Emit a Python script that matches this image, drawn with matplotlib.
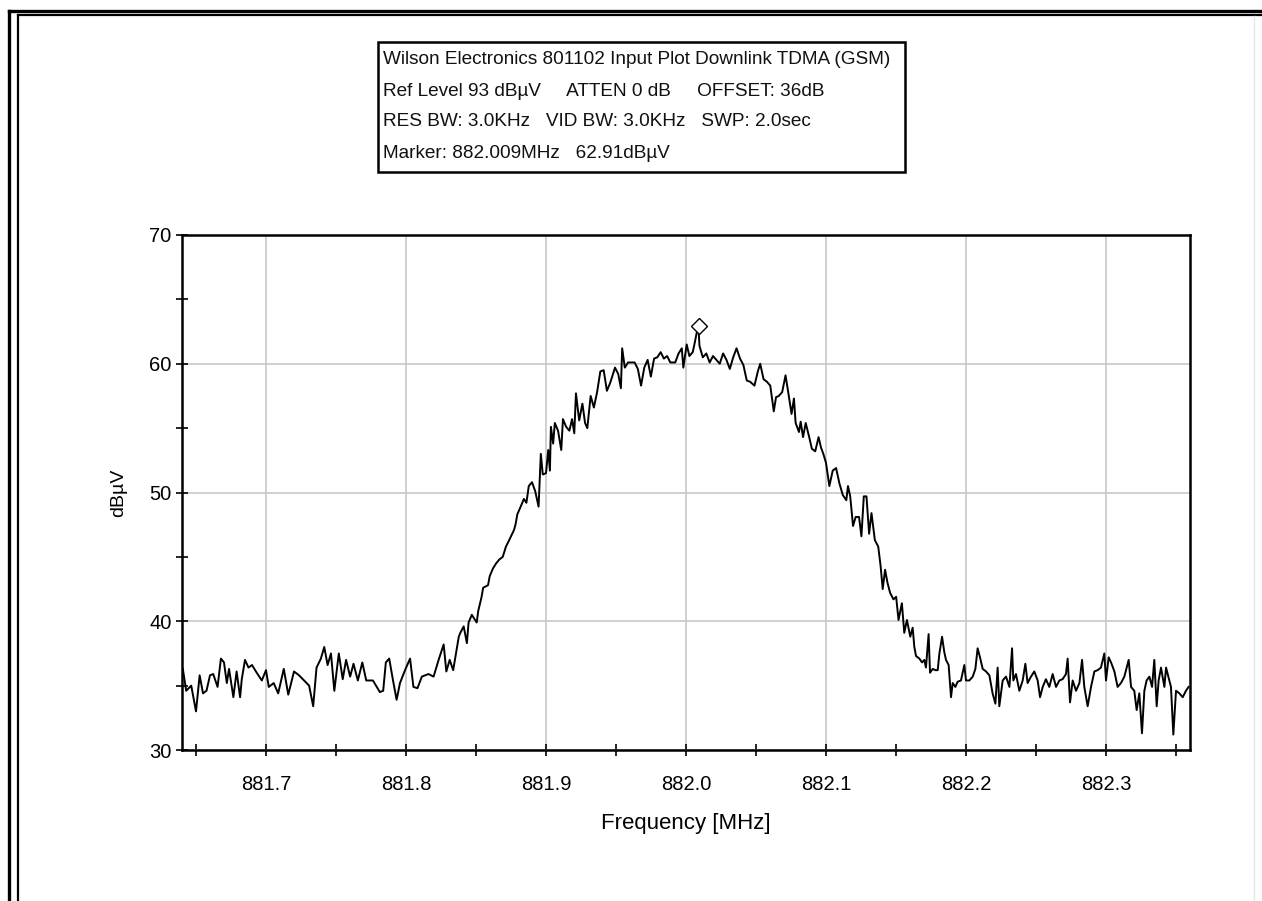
import numpy as np
import matplotlib.pyplot as plt
from matplotlib.lines import Line2D
from matplotlib.patches import Rectangle

# ── trace (MHz, dBµV) ─────────────────────────────────────────────────────────
floor_left_f = [881.6406, 881.6430, 881.6466, 881.6500, 881.6526, 881.6550, 881.6575, 881.6600,
                881.6623, 881.6654, 881.6678, 881.6700, 881.6720, 881.6736, 881.6767, 881.6790,
                881.6815, 881.6827, 881.6850, 881.6875, 881.6900, 881.6928, 881.6970, 881.7000,
                881.7020, 881.7055, 881.7087, 881.7127, 881.7159, 881.7200, 881.7236, 881.7272,
                881.7308, 881.7337, 881.7361, 881.7392, 881.7416, 881.7440, 881.7464, 881.7488,
                881.7520, 881.7548, 881.7572, 881.7601, 881.7625, 881.7656, 881.7688, 881.7716,
                881.7764, 881.7813, 881.7837, 881.7856, 881.7880, 881.7909, 881.7933, 881.7957,
                881.7993, 881.8029, 881.8053, 881.8082, 881.8113, 881.8161, 881.8197, 881.8233,
                881.8269, 881.8288, 881.8312, 881.8337, 881.8377]
floor_left_db = [36.3, 34.6, 35.0, 33.0, 35.8, 34.4, 34.6, 35.8,
                 35.9, 34.9, 37.1, 36.8, 35.2, 36.3, 34.1, 36.1,
                 34.1, 35.5, 37.0, 36.4, 36.6, 36.1, 35.4, 36.2,
                 34.9, 35.2, 34.4, 36.3, 34.3, 36.1, 35.8, 35.4,
                 35.0, 33.4, 36.4, 37.1, 38.0, 36.6, 37.5, 34.6,
                 37.5, 35.5, 37.0, 35.7, 36.7, 35.4, 36.8, 35.4,
                 35.4, 34.5, 34.6, 36.8, 37.1, 35.3, 33.9, 35.2,
                 36.2, 37.1, 34.9, 34.8, 35.7, 35.9, 35.7, 37.0,
                 38.2, 36.1, 37.0, 36.2, 38.8]

rise_f = [881.8388, 881.8412, 881.8435, 881.8447, 881.8470, 881.8505, 881.8516, 881.8540,
          881.8551, 881.8586, 881.8598, 881.8621, 881.8644, 881.8667, 881.8691, 881.8714,
          881.8737, 881.8772, 881.8784, 881.8795, 881.8819, 881.8842, 881.8860, 881.8877,
          881.8900, 881.8923, 881.8947, 881.8953, 881.8963, 881.8977, 881.9000, 881.9016,
          881.9028, 881.9035, 881.9051, 881.9063, 881.9086, 881.9109, 881.9121, 881.9144,
          881.9167, 881.9186, 881.9202, 881.9214, 881.9237, 881.9260, 881.9279, 881.9295,
          881.9319, 881.9342, 881.9365, 881.9388, 881.9412, 881.9435, 881.9458, 881.9493,
          881.9516, 881.9535, 881.9544, 881.9563, 881.9586, 881.9633, 881.9656, 881.9679,
          881.9702, 881.9726, 881.9749, 881.9772, 881.9795, 881.9819, 881.9842, 881.9865,
          881.9888, 881.9923, 881.9947, 881.9970, 881.9981, 882.0005]
rise_db = [39.1, 39.6, 38.3, 39.9, 40.5, 39.9, 40.8, 41.9,
           42.6, 42.8, 43.5, 44.1, 44.5, 44.8, 45.0, 45.8,
           46.3, 47.1, 47.6, 48.3, 48.9, 49.5, 49.2, 50.5,
           50.8, 50.1, 48.9, 50.5, 53.0, 51.4, 51.5, 53.3,
           51.7, 55.1, 53.8, 55.4, 54.8, 53.3, 55.7, 55.1,
           54.8, 55.7, 54.6, 57.7, 55.6, 56.9, 55.4, 55.0,
           57.5, 56.6, 57.8, 59.4, 59.5, 57.9, 58.5, 59.7,
           59.2, 58.1, 61.2, 59.7, 60.1, 60.1, 59.6, 58.3,
           59.7, 60.3, 59.0, 60.4, 60.5, 60.9, 60.4, 60.6,
           60.1, 60.1, 60.8, 61.2, 59.7, 61.5]

fall_f = [882.0024, 882.0048, 882.0060, 882.0080, 882.0089, 882.0096, 882.0120, 882.0145,
          882.0169, 882.0193, 882.0217, 882.0241, 882.0265, 882.0289, 882.0313, 882.0337,
          882.0361, 882.0386, 882.0410, 882.0434, 882.0458, 882.0489, 882.0513, 882.0530,
          882.0554, 882.0578, 882.0602, 882.0627, 882.0643, 882.0663, 882.0687, 882.0711,
          882.0730, 882.0754, 882.0771, 882.0783, 882.0807, 882.0819, 882.0836, 882.0855,
          882.0880, 882.0899, 882.0923, 882.0947, 882.0964, 882.0981, 882.1000, 882.1024,
          882.1048, 882.1072, 882.1096, 882.1120, 882.1145, 882.1157, 882.1173, 882.1193,
          882.1212, 882.1236, 882.1253, 882.1270, 882.1289, 882.1308, 882.1325, 882.1349,
          882.1373, 882.1390, 882.1405, 882.1422, 882.1439, 882.1458, 882.1482, 882.1501,
          882.1518, 882.1542, 882.1559, 882.1578, 882.1602]
fall_db = [60.6, 60.9, 61.5, 62.6, 62.9, 61.4, 60.5, 60.8,
           60.1, 60.6, 60.3, 60.0, 60.8, 60.3, 59.6, 60.5,
           61.2, 60.4, 59.9, 58.7, 58.6, 58.3, 59.4, 60.0,
           58.8, 58.6, 58.3, 56.3, 57.4, 57.5, 57.8, 59.1,
           57.8, 56.1, 57.3, 55.4, 54.7, 55.5, 54.3, 55.4,
           54.3, 53.4, 53.2, 54.3, 53.5, 53.0, 52.3, 50.5,
           51.7, 51.9, 50.7, 49.8, 49.4, 50.5, 49.7, 47.4,
           48.1, 48.1, 46.6, 49.7, 49.7, 46.8, 48.4, 46.3,
           45.8, 44.3, 42.5, 44.0, 43.0, 42.2, 41.7, 41.9,
           40.1, 41.4, 39.1, 40.1, 38.8]

floor_right_f = [882.1619, 882.1631, 882.1643, 882.1667, 882.1686, 882.1702, 882.1714, 882.1733,
                 882.1743, 882.1762, 882.1781, 882.1798, 882.1810, 882.1829, 882.1845, 882.1857,
                 882.1876, 882.1893, 882.1905, 882.1924, 882.1940, 882.1964, 882.1988, 882.2000,
                 882.2024, 882.2048, 882.2067, 882.2083, 882.2100, 882.2119, 882.2143, 882.2167,
                 882.2190, 882.2210, 882.2226, 882.2238, 882.2262, 882.2286, 882.2310, 882.2329,
                 882.2338, 882.2357, 882.2381, 882.2405, 882.2424, 882.2440, 882.2464, 882.2488,
                 882.2512, 882.2529, 882.2548, 882.2571, 882.2595, 882.2619, 882.2643, 882.2667,
                 882.2690, 882.2714, 882.2726, 882.2743, 882.2762, 882.2786, 882.2810, 882.2829,
                 882.2845, 882.2869, 882.2893, 882.2917, 882.2940, 882.2964, 882.2988, 882.3000,
                 882.3019, 882.3036, 882.3060, 882.3083, 882.3107, 882.3131, 882.3162, 882.3179,
                 882.3202, 882.3219, 882.3238, 882.3257, 882.3274, 882.3290, 882.3310, 882.3329,
                 882.3345, 882.3362, 882.3376, 882.3393, 882.3417, 882.3429, 882.3452, 882.3464,
                 882.3481, 882.3500, 882.3524, 882.3548, 882.3571, 882.3590]
floor_right_db = [39.5, 38.0, 37.3, 37.1, 36.8, 37.0, 36.4, 39.0,
                  36.0, 36.3, 36.2, 36.2, 37.5, 38.8, 37.6, 37.0,
                  36.6, 34.1, 35.2, 34.9, 35.3, 35.4, 36.6, 35.4,
                  35.4, 35.7, 36.3, 37.9, 37.2, 36.3, 36.1, 35.8,
                  34.4, 33.6, 36.4, 33.4, 35.4, 35.7, 34.9, 37.9,
                  35.4, 35.9, 34.6, 35.4, 36.7, 35.2, 35.7, 36.1,
                  35.4, 34.1, 34.9, 35.5, 34.9, 35.9, 34.9, 35.4,
                  35.5, 35.9, 37.1, 33.7, 35.4, 34.6, 35.2, 37.0,
                  34.9, 33.4, 34.9, 36.1, 36.2, 36.4, 37.5, 35.4,
                  37.2, 36.8, 36.1, 34.9, 35.2, 35.7, 37.0, 34.9,
                  34.6, 33.1, 34.4, 31.3, 34.6, 35.4, 35.7, 34.9,
                  37.0, 33.4, 35.4, 36.4, 34.9, 36.4, 35.4, 34.9,
                  31.2, 34.6, 34.4, 34.1, 34.6, 34.9]

marker_f = 882.009
marker_db = 62.91

header_lines = [
    "Wilson Electronics 801102 Input Plot Downlink TDMA (GSM)",
    "Ref Level 93 dBµV     ATTEN 0 dB     OFFSET: 36dB",
    "RES BW: 3.0KHz   VID BW: 3.0KHz   SWP: 2.0sec",
    "Marker: 882.009MHz   62.91dBµV",
]
x_ticks = [881.7, 881.8, 881.9, 882.0, 882.1, 882.2, 882.3]
x_minor = [881.65, 881.75, 881.85, 881.95, 882.05, 882.15, 882.25, 882.35]
y_ticks = [30, 40, 50, 60, 70]
y_minor = [35, 45, 55, 65]

freq = np.concatenate([floor_left_f, rise_f, fall_f, floor_right_f])
level = np.concatenate([floor_left_db, rise_db, fall_db, floor_right_db])

W, H = 1262, 901
plt.rcParams['font.family'] = ['Liberation Sans', 'DejaVu Sans']
fig = plt.figure(figsize=(W / 100, H / 100), dpi=100)
fig.patch.set_facecolor("white")

def fx(px):
    return px / W

def fy(py):
    return 1 - py / H

# ── outer frame lines ────────────────────────────────────────────────────────
fig.add_artist(Line2D([fx(9), fx(9)], [fy(11), 0], color="black", lw=2.4))
fig.add_artist(Line2D([fx(9), 1], [fy(11), fy(11)], color="black", lw=2.4))
fig.add_artist(Line2D([fx(18), fx(18)], [fy(15), 0], color="black", lw=1.6))
fig.add_artist(Line2D([fx(18), 1], [fy(15), fy(15)], color="black", lw=1.6))
fig.add_artist(Line2D([fx(1254), fx(1254)], [fy(16), 0], color="#e6e6e6", lw=1.0))

# ── header box ───────────────────────────────────────────────────────────────
fig.add_artist(Rectangle((fx(378), fy(172)), fx(905) - fx(378), fy(42) - fy(172),
                         transform=fig.transFigure, fill=False, ec="black", lw=1.8))
for i, line in enumerate(header_lines):
    fig.text(fx(383), fy(60 + i * 31), line, ha="left", va="center", fontsize=13.7,
             color="#111111")

# ── plot ─────────────────────────────────────────────────────────────────────
ax = fig.add_axes([fx(182), fy(750), fx(1190) - fx(182), fy(235) - fy(750)])
ax.plot(freq, level, color="black", lw=1.4)
ax.plot([marker_f], [marker_db], marker="D", ms=8, mfc="white", mec="black", mew=1.0,
        ls="none")

ax.set_xlim(881.64, 882.36)
ax.set_ylim(30, 70)
ax.set_xticks(x_ticks)
ax.set_xticklabels([f"{t:.1f}" for t in x_ticks])
ax.set_xticks(x_minor, minor=True)
ax.set_yticks(y_ticks)
ax.set_yticks(y_minor, minor=True)
ax.grid(True, which="major", color="#c8c8c8", lw=1.2)
ax.set_axisbelow(True)
ax.tick_params(which="both", direction="inout", length=8, width=1.2, labelsize=14.5)
ax.tick_params(axis="x", pad=14)
for s in ax.spines.values():
    s.set_linewidth(1.8)

ax.set_xlabel("Frequency [MHz]", fontsize=16, labelpad=14)
ax.set_ylabel("dBµV", fontsize=14, labelpad=16)

plt.savefig("out.png", dpi=100)
